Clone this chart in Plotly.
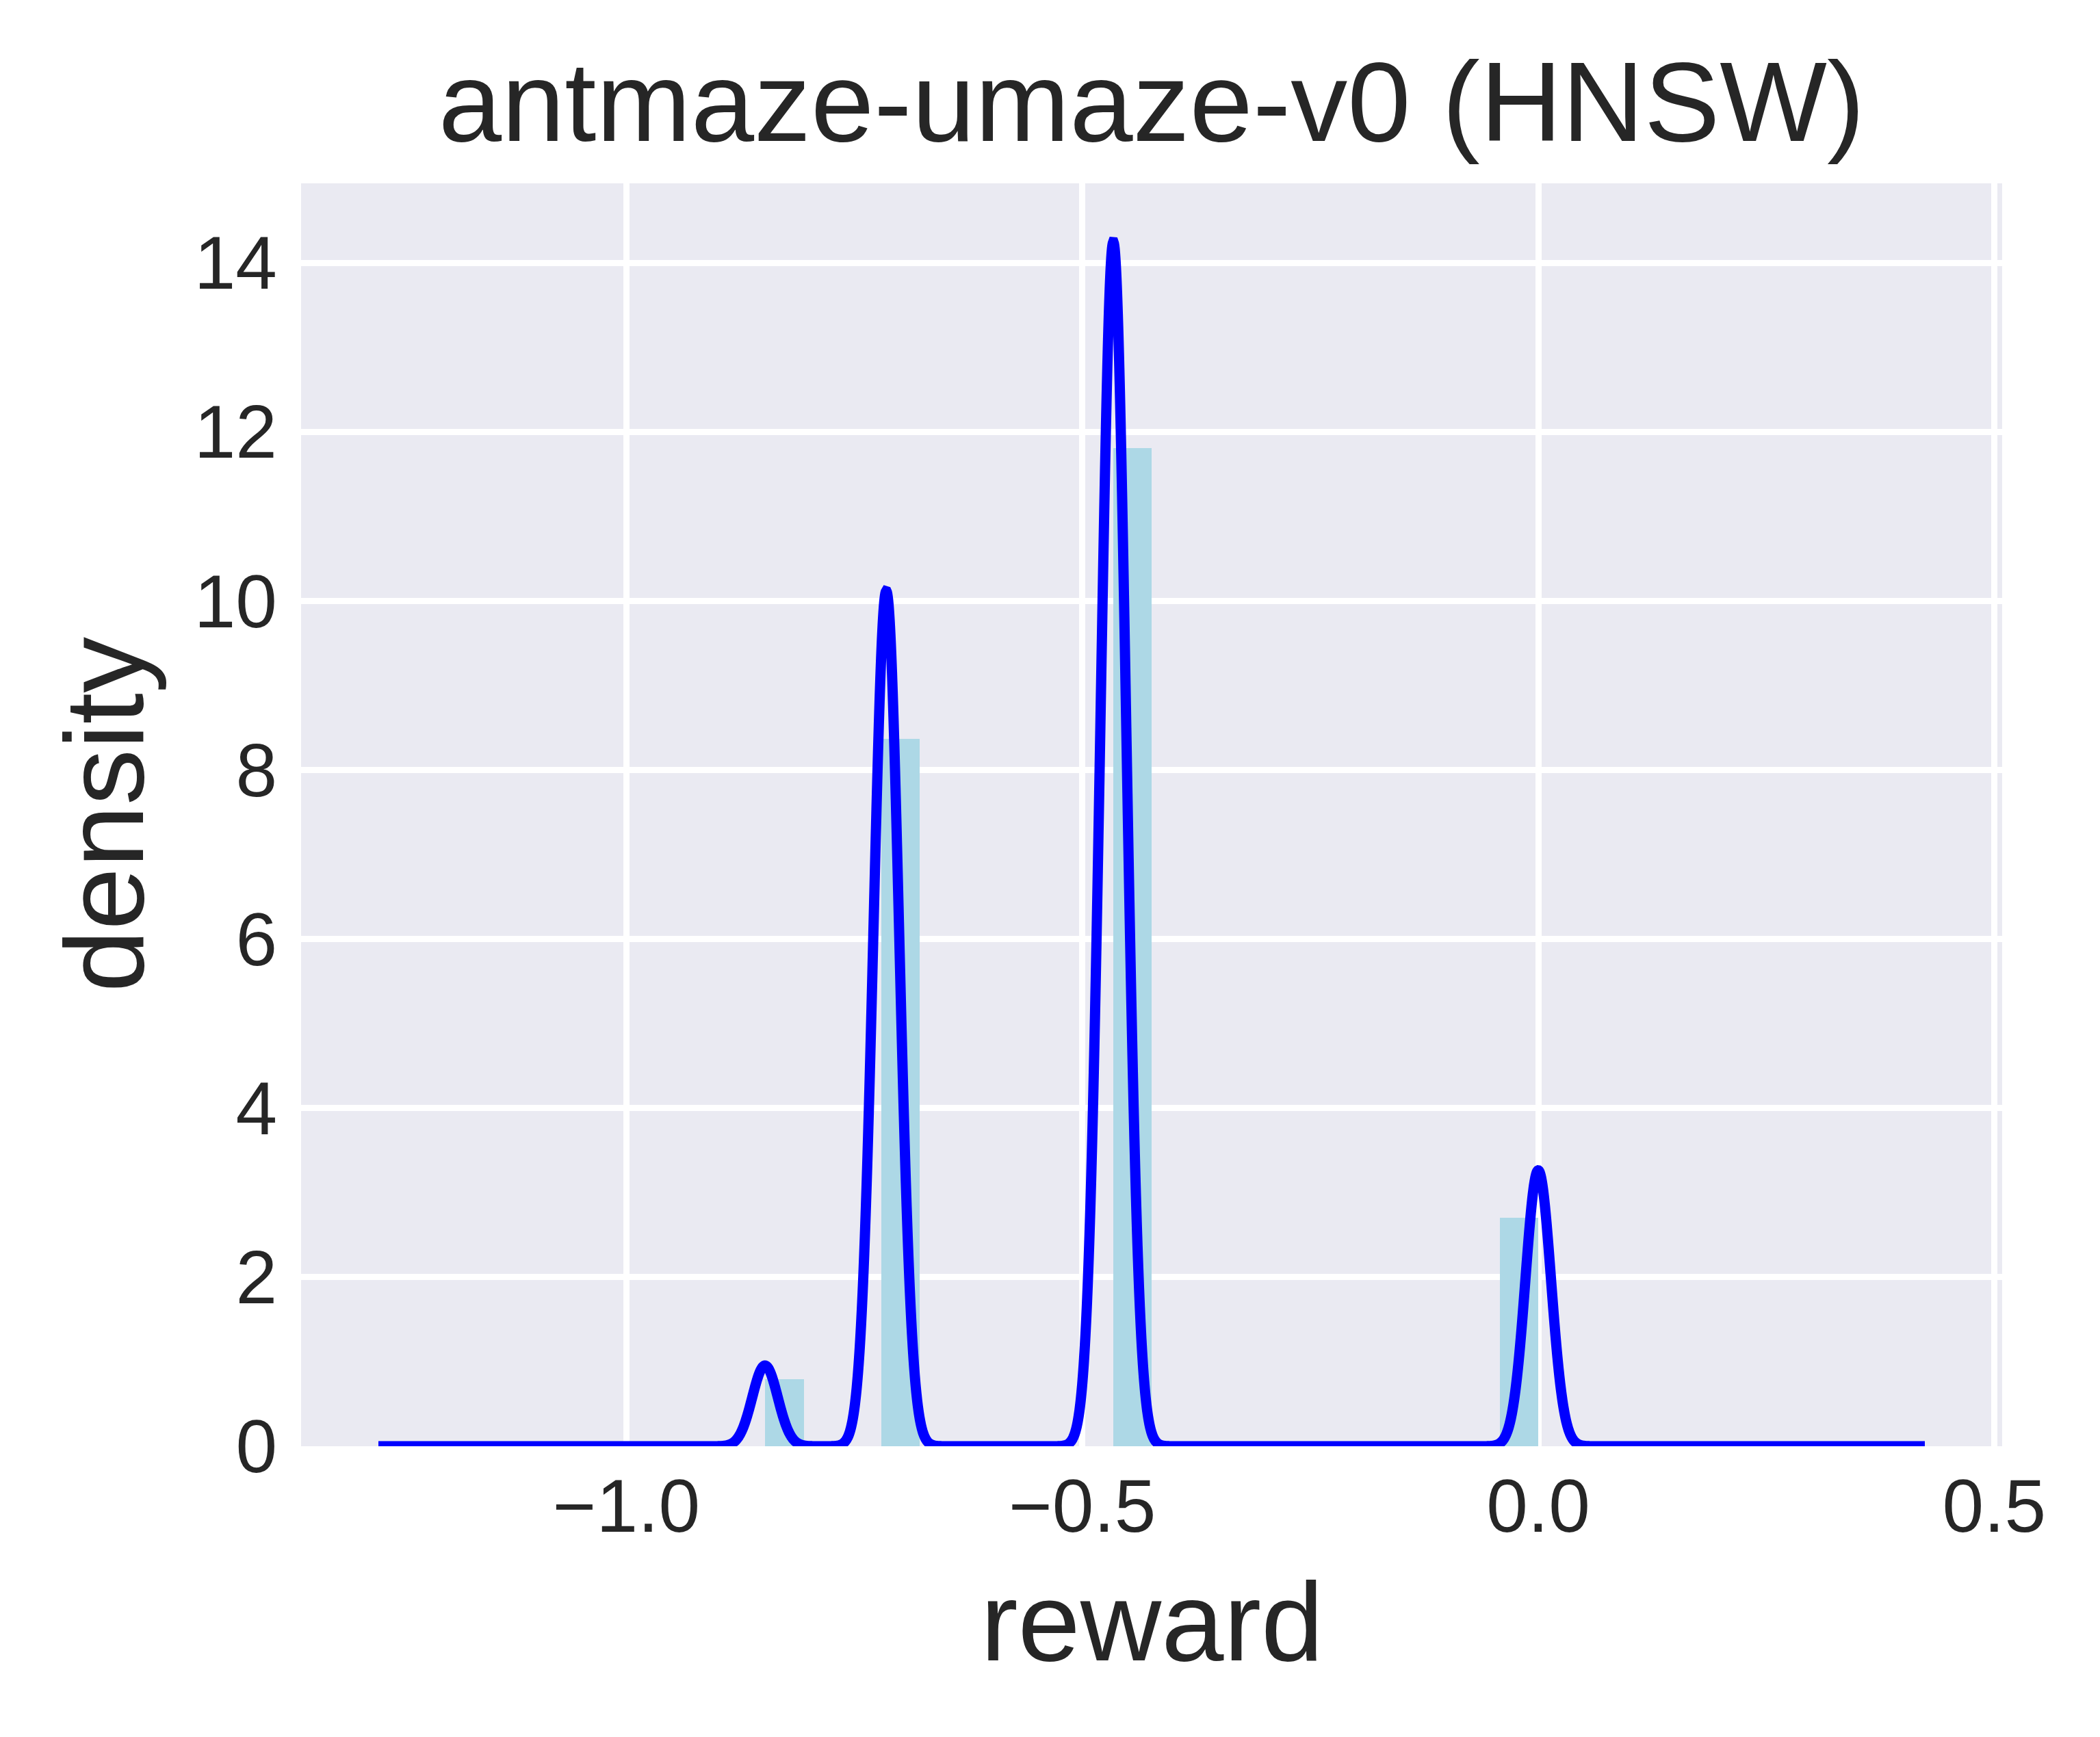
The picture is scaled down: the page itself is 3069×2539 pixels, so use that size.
import numpy as np
import plotly.graph_objects as go

# ---- data ----
bin_width = 0.0424
bin_lefts = [-0.848, -0.7208, -0.4664, -0.0424]      # non-empty histogram bins
bin_density = [0.79, 8.37, 11.81, 2.70]              # density heights of the bars

reward_values = [-0.848, -0.715, -0.466, 0.0]        # distinct reward levels (KDE centres)
reward_share = [0.0335, 0.355, 0.4999, 0.1145]       # share of samples at each level
kde_bandwidth = 0.014
kde_grid_range = [-1.272, 0.424]

x_tickvals = [-1.0, -0.5, 0.0, 0.5]
x_ticktext = ["\u22121.0", "\u22120.5", "0.0", "0.5"]
y_tickvals = [0, 2, 4, 6, 8, 10, 12, 14]

title_text = "antmaze-umaze-v0 (HNSW)"
x_label = "reward"
y_label = "density"

# ---- KDE evaluation from the sample levels ----
grid = np.linspace(kde_grid_range[0], kde_grid_range[1], 4000)
vals = np.array(reward_values)
w = np.array(reward_share)
dens = (w[None, :] * np.exp(-0.5 * ((grid[:, None] - vals[None, :]) / kde_bandwidth) ** 2)
        / (kde_bandwidth * np.sqrt(2 * np.pi))).sum(axis=1)

FONT = "Liberation Sans, Arial, sans-serif"
TXT = "#262626"

fig = go.Figure()
fig.add_trace(go.Bar(
    x=[l + bin_width / 2 for l in bin_lefts],
    y=bin_density,
    width=[bin_width] * len(bin_lefts),
    marker=dict(color="#ADD8E6", line=dict(width=0)),
    showlegend=False,
))
fig.add_trace(go.Scatter(
    x=grid, y=dens, mode="lines",
    line=dict(color="#0000FF", width=15, simplify=False),
    showlegend=False,
))

fig.update_layout(
    width=3069, height=2539,
    margin=dict(l=440, r=143, t=268, b=425),
    paper_bgcolor="white",
    plot_bgcolor="#EAEAF2",
    font=dict(family=FONT, color=TXT, size=109),
    bargap=0,
    title=dict(text=title_text, x=0.5, xref="paper", xanchor="center",
               y=1 - 148 / 2539, yref="container", yanchor="middle",
               font=dict(size=166, family=FONT, color=TXT)),
    xaxis=dict(
        range=[-1.3568, 0.5088],
        tickvals=x_tickvals, ticktext=x_ticktext,
        showgrid=True, gridcolor="white", gridwidth=8.5,
        zeroline=False, showline=False, ticks="",
        ticklabelstandoff=15,
        tickfont=dict(size=109, family=FONT, color=TXT),
    ),
    yaxis=dict(
        range=[0, 14.94],
        tickvals=y_tickvals,
        showgrid=True, gridcolor="white", gridwidth=8.5,
        zeroline=False, showline=False, ticks="",
        ticklabelstandoff=34,
        tickfont=dict(size=109, family=FONT, color=TXT),
    ),
    annotations=[
        dict(text=x_label, xref="paper", yref="paper", x=0.5, y=-0.139,
             xanchor="center", yanchor="middle", showarrow=False,
             font=dict(size=164, family=FONT, color=TXT)),
        dict(text=y_label, xref="paper", yref="paper", x=-0.116, y=0.5,
             xanchor="center", yanchor="middle", textangle=-90, showarrow=False,
             font=dict(size=164, family=FONT, color=TXT)),
    ],
)

fig.write_html("out.html", config={"displayModeBar": False},
               post_script="document.body.style.margin='0';")
